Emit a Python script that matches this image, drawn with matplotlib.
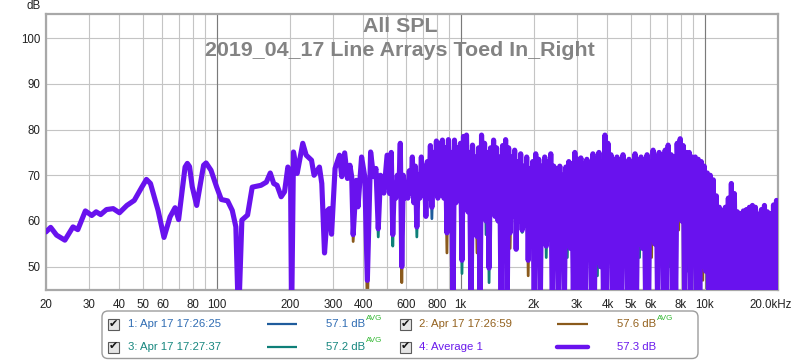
import numpy as np
import matplotlib
matplotlib.use('Agg')
import matplotlib.pyplot as plt
import matplotlib.transforms as mtransforms
from matplotlib.patches import FancyBboxPatch, Rectangle
from matplotlib.lines import Line2D

plt.rcParams['font.family'] = ['Liberation Sans', 'DejaVu Sans']
plt.rcParams['path.simplify'] = False

# ---------------- data ----------------
title_lines = ["All SPL", "2019_04_17 Line Arrays Toed In_Right"]

# Average curve, low/mid part (Hz, dB)
low_freq = [20, 20.9, 22.1, 23.9, 25.8, 27.0, 29.0, 30.8, 32.1, 33.5,
            35.4, 37.7, 40.0, 42.9, 46.0, 49.4, 51.6, 53.6, 57.6, 60.9,
            64.5, 67.6, 69.9, 74.3, 75.9, 77.5, 79.5, 82.9, 88.5, 90.6, 94.9, 100,
            104.6, 111, 116, 120, 123, 127, 134, 140, 152, 160, 166, 171.5, 177,
            184, 190, 196, 201, 203, 206.7, 214, 225.6, 233, 245,
            251, 264, 270, 277, 285, 290, 296, 306, 319, 326,
            335, 344, 352, 358, 363, 374, 380, 393, 405, 415,
            428, 440, 450, 460, 470, 485, 500, 512]
low_avg = [57.6, 58.6, 56.9, 55.8, 58.7, 58.1, 62.2, 61.2, 62.0, 61.4,
           62.5, 62.7, 61.8, 63.4, 64.5, 67.4, 69.1, 68.2, 62.3, 56.4,
           60.9, 62.9, 60.3, 71.8, 72.6, 71.9, 67.5, 63.4, 72.2, 72.7, 71.1, 67.5,
           64.7, 64.4, 62.3, 58.7, 38.0, 60.2, 61.3, 67.4, 67.8, 68.5, 70.5, 68.2, 67.8,
           65.3, 66.4, 71.8, 70.7, 38.0, 75.1, 70.4, 77.0, 74.4, 73.3,
           70.0, 71.8, 68.2, 53.0, 62.3, 62.7, 57.1, 71.5, 74.4, 69.7,
           74.9, 69.3, 72.2, 69.7, 57.0, 68.9, 63.1, 74.0, 69.7, 47.0,
           75.1, 69.7, 71.5, 58.3, 70.0, 66.1, 74.4, 66.0]

# Dense (unsmoothed) part, 520 Hz .. 20 kHz: alternating local peaks and dips
dense_start_hz = 520
dense_stop_hz = 20000
dense_peaks = [75, 68, 70, 77, 70, 68, 71, 74, 72, 70,
               74, 72, 73, 76.5, 75, 77.5, 77, 77.7, 76, 77.8,
               75, 77.7, 76, 77, 78.5, 78.8, 75, 76.6, 74, 76,
               78.8, 77, 75, 76, 77.7, 76, 74, 76.5, 77.8, 76,
               74, 75.5, 73, 74.7, 72, 74, 71.5, 73, 74.7, 73.5,
               72, 74, 73, 74.7, 72, 71.5, 72, 70, 71.8, 73,
               72.5, 75, 73.5, 73.8, 72.5, 73.5, 72.8, 74.7, 73.5, 75,
               73, 78.8, 77, 74.5, 72.5, 74, 73, 74.5, 72.5, 73.5,
               72.8, 74.7, 72, 74, 73, 74.5, 73, 75.5, 74, 75,
               74.5, 75.5, 76.6, 74.5, 74, 77, 78, 76.5, 75, 75,
               74, 74, 73.5, 73, 72, 70.5, 70, 69, 65.5, 63,
               62.3, 63, 65, 68.2, 66, 62, 61.6, 62.2, 62.5, 63,
               63.4, 63, 61.5, 62.5, 63.4, 62, 61.6, 63.5, 64.5]
dense_dips = [57, 65, 66, 50, 65, 65, 66, 64, 58.7, 65,
              66, 61, 65, 63, 66, 65, 66, 65, 57.4, 66,
              40, 64, 65, 51.4, 64, 62, 40, 61, 56.6, 40,
              63, 60, 49.7, 62, 61, 60, 40, 62, 40, 57.4,
              61, 53.8, 60, 58, 59, 51.4, 57, 40, 58, 40,
              58, 54.5, 56, 40, 55, 40, 52, 40, 55, 54,
              43, 40, 42, 40, 44, 58, 40, 42, 51, 50,
              43, 40, 56, 41, 40, 44, 40, 55, 40, 42,
              40, 43, 55, 54, 42, 40, 56, 55, 40, 57,
              40, 43, 53, 40, 42, 61.6, 60, 41, 52, 40,
              55, 40, 42, 50, 49, 41, 40, 42, 40, 41,
              40, 42, 40, 41, 40, 43, 40, 41, 40, 42,
              40, 41, 40, 42, 40, 41, 40, 42, 40]

# Individual measurements differ from the average only visibly at some dip tips
m1_low_dips = {}
m1_dense_dips = {13: 60.5, 31: 57.0, 98: 49.0}
m2_low_dips = {363: 55.5, 415: 40.0}
m2_dense_dips = {3: 46.5, 18: 53.0, 20: 35.0, 28: 53.0, 39: 54.0, 45: 48.0,
                 65: 55.0, 77: 52.0, 86: 52.0, 95: 58.0, 103: 47.0}
m3_low_dips = {460: 56.5}
m3_dense_dips = {0: 54.5, 8: 56.5, 23: 48.5, 32: 46.5, 43: 57.5, 51: 52.0,
                 58: 52.0, 68: 48.0, 72: 53.0, 82: 52.0, 89: 54.0, 92: 50.0, 100: 52.0}

series_labels = ["1: Apr 17 17:26:25", "2: Apr 17 17:26:59",
                 "3: Apr 17 17:27:37", "4: Average 1"]
series_values = ["57.1 dB", "57.6 dB", "57.2 dB", "57.3 dB"]
series_is_avg = [True, True, True, False]
series_colors = ["#1f5c9c", "#8a5a1c", "#0e7f78", "#6912ee"]
series_text_colors = ["#2f6cb3", "#94621f", "#17877f", "#6a1aec"]

y_ticks = [50, 60, 70, 80, 90, 100]
x_tick_freqs = [20, 30, 40, 50, 60, 80, 100, 200, 300, 400, 600, 800,
                1000, 2000, 3000, 4000, 5000, 6000, 8000, 10000, 20000]
x_tick_labels = ["20", "30", "40", "50", "60", "80", "100", "200", "300", "400",
                 "600", "800", "1k", "2k", "3k", "4k", "5k", "6k", "8k", "10k", "20.0kHz"]
grid_freqs = [20, 30, 40, 50, 60, 70, 80, 90, 100, 200, 300, 400, 500, 600, 700, 800, 900,
              1000, 2000, 3000, 4000, 5000, 6000, 7000, 8000, 9000, 10000, 20000]
decade_freqs = [100, 1000, 10000]

# ---------------- build series ----------------
n_dense = 2 * len(dense_peaks)
dense_freq = np.geomspace(dense_start_hz, dense_stop_hz, n_dense)
dense_avg = np.empty(n_dense)
dense_avg[0::2] = dense_peaks
dense_avg[1::2] = dense_dips
freq = np.concatenate([np.array(low_freq, float), dense_freq])
avg = np.concatenate([np.array(low_avg, float), dense_avg])
n_low = len(low_freq)


def measurement(low_over, dense_over):
    v = avg.copy()
    for f, val in low_over.items():
        v[low_freq.index(f)] = val
    for j, val in dense_over.items():
        v[n_low + 2 * j + 1] = val
    return v


meas = [measurement(m1_low_dips, m1_dense_dips),
        measurement(m2_low_dips, m2_dense_dips),
        measurement(m3_low_dips, m3_dense_dips)]

# ---------------- figure ----------------
W, H = 800, 361
fig = plt.figure(figsize=(W / 100, H / 100), dpi=100)
fig.patch.set_facecolor('white')
ax = fig.add_axes([46 / W, 1 - 289.5 / H, (778 - 46) / W, 275.5 / H])
ax.set_xscale('log')
ax.set_xlim(20, 20000)
ax.set_ylim(45.0, 105.3)

# grid
for f in grid_freqs:
    ax.axvline(f, color='#c4c4c4', lw=0.8, zorder=0)
for f in decade_freqs:
    ax.axvline(f, color='#7a7a7a', lw=0.8, zorder=0.5)
for yv in y_ticks:
    ax.axhline(yv, color='#c4c4c4', lw=0.8, zorder=0)

# curves
order = [0, 2, 1]
for i in order:
    ax.plot(freq, meas[i], color=series_colors[i], lw=2.0, zorder=2,
            solid_joinstyle='round', solid_capstyle='round')
ax.plot(freq, avg, color=series_colors[3], lw=3.7, zorder=3,
        solid_joinstyle='round', solid_capstyle='round')

# ticks
ax.set_yticks(y_ticks)
ax.set_yticklabels([str(v) for v in y_ticks])
ax.set_xticks(x_tick_freqs)
ax.set_xticklabels(x_tick_labels)
ax.xaxis.set_minor_locator(matplotlib.ticker.NullLocator())
ax.tick_params(axis='both', length=0, labelsize=8.3, colors='#222222')
ax.tick_params(axis='x', pad=7)
ax.tick_params(axis='y', pad=4)
lab = ax.get_xticklabels()[-1]
lab.set_transform(lab.get_transform() + mtransforms.ScaledTranslation(-7 / 100, 0, fig.dpi_scale_trans))

for s in ax.spines.values():
    s.set_color('#a8a8a8')
    s.set_linewidth(1.6)

# titles
pxt = mtransforms.Affine2D().scale(1 / 100.) + fig.dpi_scale_trans


def Y(y):
    return H - y


fig.text(400, Y(26), title_lines[0], transform=pxt, ha='center', va='center',
         fontsize=15.4, fontweight='bold', color='#838383')
fig.text(400, Y(50), title_lines[1], transform=pxt, ha='center', va='center',
         fontsize=15.4, fontweight='bold', color='#838383')
fig.text(34, Y(6), 'dB', transform=pxt, ha='center', va='center', fontsize=8.3, color='#222222')

# legend
box = FancyBboxPatch((102, Y(358.5)), 596, 47.5, boxstyle='round,pad=0,rounding_size=6',
                     transform=pxt, fc='white', ec='#9c9c9c', lw=1.0)
fig.add_artist(box)

cols = [dict(cb=108, lab=128, l0=267, l1=297, val=326),
        dict(cb=400, lab=419, l0=557, l1=588, val=617)]
rows = [324, 347]
pos = [(0, 0), (1, 0), (0, 1), (1, 1)]
fig.canvas.draw()
renderer = fig.canvas.get_renderer()
for i in range(4):
    c = cols[pos[i][0]]
    y = rows[pos[i][1]]
    fig.add_artist(Rectangle((c['cb'], Y(y + 5.5)), 11, 11, transform=pxt,
                             fc='#e4e4e4', ec='#5a5a5a', lw=0.8))
    fig.text(c['cb'] + 5.7, Y(y - 0.5), '\u2714', transform=pxt, ha='center', va='center',
             fontsize=8, color='#111111', family='DejaVu Sans')
    fig.text(c['lab'], Y(y), series_labels[i], transform=pxt, ha='left', va='center',
             fontsize=8.2, color=series_text_colors[i])
    fig.add_artist(Line2D([c['l0'], c['l1']], [Y(y), Y(y)], transform=pxt,
                          color=series_colors[i], lw=3.2 if i == 3 else 1.6,
                          solid_capstyle='round' if i == 3 else 'butt'))
    t = fig.text(c['val'], Y(y), series_values[i], transform=pxt, ha='left', va='center',
                 fontsize=8.2, color=series_text_colors[i])
    if series_is_avg[i]:
        bb = t.get_window_extent(renderer=renderer)
        fig.text(bb.x1 + 0.5, Y(y - 6), 'AVG', transform=pxt, ha='left', va='center',
                 fontsize=5.8, color='#33b833')

fig.savefig('out.png', dpi=100, facecolor='white')
